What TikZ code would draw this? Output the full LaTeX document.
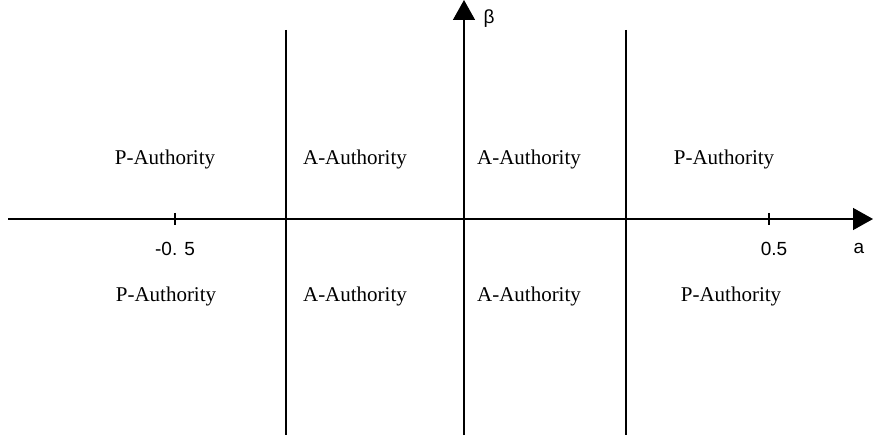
\documentclass[tikz,border=0pt]{standalone}
\usepackage{fontspec}
\setmainfont{Liberation Serif}
\newfontfamily\arialfont{Liberation Sans}
\usetikzlibrary{arrows.meta}
\tikzset{
    region/.style={font=\fontsize{10.5}{12}\selectfont},
    axislabel/.style={font=\arialfont\fontsize{9.5}{11}\selectfont},
    axis/.style={line width=0.7pt, -{Triangle[length=10pt,width=11pt]}},
    border/.style={line width=0.6pt}
}
\begin{document}
\begin{tikzpicture}[x=0.5pt,y=-0.5pt]
    \useasboundingbox (0,0) rectangle (873,438);

    % axes
    \coordinate (xs) at (8,219);
    \coordinate (xe) at (873,219);
    \coordinate (ys) at (464,435);
    \coordinate (ye) at (464,0);
    \draw [axis] (xs) -- (xe);
    \draw [axis] (ys) -- (ye);

    % borders between the regions
    \coordinate (lt) at (286,30);
    \coordinate (lb) at (286,435);
    \coordinate (rt) at (626,30);
    \coordinate (rb) at (626,435);
    \draw [border] (lt) -- (lb);
    \draw [border] (rt) -- (rb);

    % ticks
    \coordinate (tlt) at (175,213);
    \coordinate (tlb) at (175,225);
    \coordinate (trt) at (769,213);
    \coordinate (trb) at (769,225);
    \draw [border] (tlt) -- (tlb);
    \draw [border] (trt) -- (trb);

    \node [axislabel] (mhalf) at (175,249) {-0. 5};
    \node [axislabel] (phalf) at (774,249) {0.5};
    \node [axislabel] (alab) at (859,248) {a};
    \node [axislabel] (blab) at (489,19) {β};

    \node [region] (pa1) at (165,159) {P-Authority};
    \node [region] (aa1) at (355,159) {A-Authority};
    \node [region] (aa2) at (529,159) {A-Authority};
    \node [region] (pa2) at (724,159) {P-Authority};

    \node [region] (pa3) at (166,296) {P-Authority};
    \node [region] (aa3) at (355,296) {A-Authority};
    \node [region] (aa4) at (529,296) {A-Authority};
    \node [region] (pa4) at (731,296) {P-Authority};
\end{tikzpicture}
\end{document}
